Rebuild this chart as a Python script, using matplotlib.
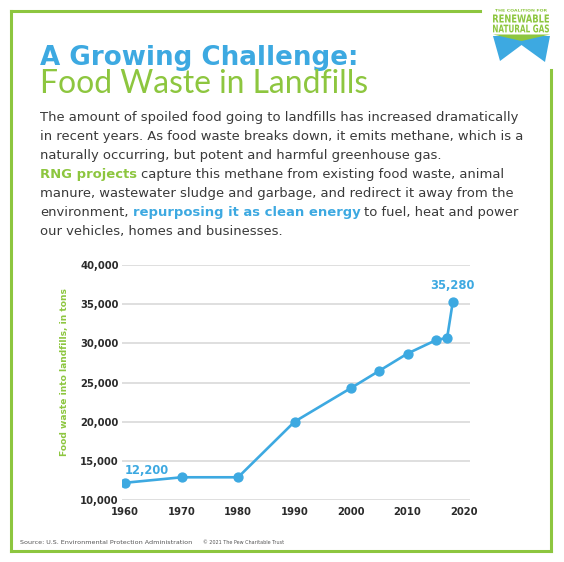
import matplotlib
matplotlib.use("Agg")
import matplotlib.pyplot as plt
from matplotlib.lines import Line2D
from matplotlib.patches import Polygon, PathPatch
from matplotlib.textpath import TextPath
from matplotlib.font_manager import FontProperties
from matplotlib.transforms import Affine2D

# ---------------- data ----------------
years = [1960, 1970, 1980, 1990, 2000, 2005, 2010, 2015, 2017, 2018]
tons = [12200, 12900, 12900, 20000, 24300, 26500, 28700, 30400, 30700, 35280]
x_ticks = [1960, 1970, 1980, 1990, 2000, 2010, 2020]
x_tick_labels = ["1960", "1970", "1980", "1990", "2000", "2010", "2020"]
y_ticks = [10000, 15000, 20000, 25000, 30000, 35000, 40000]
y_tick_labels = ["10,000", "15,000", "20,000", "25,000", "30,000", "35,000", "40,000"]
callout_years = [1960, 2018]
callout_labels = ["12,200", "35,280"]

title = "A Growing Challenge:"
subtitle = "Food Waste in Landfills"
body_lines = [
    [("The amount of spoiled food going to landfills has increased dramatically", "txt")],
    [("in recent years. As food waste breaks down, it emits methane, which is a", "txt")],
    [("naturally occurring, but potent and harmful greenhouse gas.", "txt")],
    [("RNG projects", "green"), ("capture this methane from existing food waste, animal", "txt")],
    [("manure, wastewater sludge and garbage, and redirect it away from the", "txt")],
    [("environment,", "txt"), ("repurposing it as clean energy", "blue"), ("to fuel, heat and power", "txt")],
    [("our vehicles, homes and businesses.", "txt")],
]
y_label = "Food waste into landfills, in tons"
source = "Source: U.S. Environmental Protection Administration"
copyright_txt = "\u00a9 2021 The Pew Charitable Trust"
logo_lines = ["THE COALITION FOR", "RENEWABLE", "NATURAL GAS"]

# ---------------- style ----------------
W, H = 564, 562
GREEN = "#8DC63F"
BLUE = "#3DA9E1"
TXT = "#3a3a3a"
GRID = "#d9d9d9"
FONT = ["DejaVu Sans"]

fig = plt.figure(figsize=(W / 100, H / 100), dpi=100)
fig.patch.set_facecolor("white")
renderer = fig.canvas.get_renderer()


def fx(px):
    return px / W


def fy(py):
    return 1 - py / H


def width_of(t):
    return t.get_window_extent(renderer).width


def fit_text(x, y, s, target_w, size0=10, **kw):
    t = fig.text(fx(x), fy(y), s, fontsize=size0, **kw)
    w = width_of(t)
    t.set_fontsize(size0 * target_w / w)
    return t


def box_text(s, x0, x1, ytop, ybot, color, weight="bold"):
    """Draw text squeezed into a pixel box (top-left origin)."""
    tp = TextPath((0, 0), s, size=10, prop=FontProperties(family="DejaVu Sans", weight=weight))
    ext = tp.get_extents()
    sx = (x1 - x0) / ext.width
    sy = (ybot - ytop) / ext.height
    tr = Affine2D().translate(-ext.x0, -ext.y0).scale(sx, sy).translate(x0, H - ybot)
    fig.patches.append(PathPatch(tp, transform=tr, facecolor=color, edgecolor="none"))


# frame
fl = dict(color=GREEN, lw=2.2, solid_capstyle="projecting", transform=fig.transFigure)
for (x0, y0, x1, y1) in [(10.5, 10.5, 480, 10.5), (10.5, 10.5, 10.5, 550.5),
                         (10.5, 550.5, 550.5, 550.5), (550.5, 70, 550.5, 550.5)]:
    fig.lines.append(Line2D([fx(x0), fx(x1)], [fy(y0), fy(y1)], **fl))

# logo
box_text(logo_lines[0], 495, 547, 9, 11.6, GREEN)
box_text(logo_lines[1], 493, 549, 14.5, 22.5, GREEN)
box_text(logo_lines[2], 493, 549, 24.5, 32.5, GREEN)
bow = [(493, 36), (550, 36), (545, 62), (521.5, 45), (500, 61)]
fig.patches.append(Polygon([(fx(a), fy(b)) for a, b in bow], closed=True, facecolor=BLUE,
                           edgecolor="none", transform=fig.transFigure))
band = [(493, 34.5), (550, 34.5), (521.5, 41)]
fig.patches.append(Polygon([(fx(a), fy(b)) for a, b in band], closed=True, facecolor=GREEN,
                           edgecolor="none", transform=fig.transFigure))

# titles
fit_text(40, 65, title, 318, color=BLUE, fontweight="bold", va="baseline", family=FONT)
fit_text(40, 93, subtitle, 328, color=GREEN, fontweight="normal", va="baseline",
         family=["Lato", "DejaVu Sans"])

# body text
probe = fig.text(0, 0, body_lines[0][0][0], fontsize=10, family=FONT)
body_size = 10 * 474 / width_of(probe)
probe.remove()
p1 = fig.text(0, 0, "x x", fontsize=body_size, family=FONT)
p2 = fig.text(0, 0, "xx", fontsize=body_size, family=FONT)
space_w = width_of(p1) - width_of(p2)
p1.remove()
p2.remove()
styles = {"txt": (TXT, "normal"), "green": (GREEN, "bold"), "blue": (BLUE, "bold")}
y0 = 120.5
for i, line in enumerate(body_lines):
    x = 40
    for j, (s, st) in enumerate(line):
        c, wgt = styles[st]
        t = fig.text(fx(x), fy(y0 + i * 19.1), s, fontsize=body_size, color=c,
                     fontweight=wgt, va="baseline", family=FONT)
        x += width_of(t) + space_w

# chart
ax = fig.add_axes([fx(122), fy(500), (470 - 122) / W, (500 - 265) / H])
ax.plot(years, tons, color=BLUE, lw=1.9, marker="o", markersize=6.4, zorder=3,
        solid_capstyle="round")
ax.set_xlim(1959.45, 2021.05)
ax.set_ylim(10000, 40000)
ax.set_yticks(y_ticks)
ax.set_yticklabels(y_tick_labels)
ax.set_xticks(x_ticks)
ax.set_xticklabels(x_tick_labels)
ax.tick_params(length=0, labelsize=7.2, labelcolor="#2b2b2b")
ax.tick_params(axis="y", pad=2.5)
ax.tick_params(axis="x", pad=5)
for lab in ax.get_xticklabels() + ax.get_yticklabels():
    lab.set_fontweight("bold")
    lab.set_family(FONT)
ax.grid(axis="y", color=GRID, lw=1.2)
ax.set_axisbelow(True)
for sp in ax.spines.values():
    sp.set_visible(False)
ax.set_facecolor("none")

for yr, lab in zip(callout_years, callout_labels):
    v = tons[years.index(yr)]
    if yr == callout_years[0]:
        ax.annotate(lab, (yr, v), xytext=(0, 4.5), textcoords="offset points",
                    ha="left", va="bottom", color=BLUE, fontsize=8.3,
                    fontweight="bold", family=FONT)
    else:
        ax.annotate(lab, (yr, v), xytext=(0, 7), textcoords="offset points",
                    ha="center", va="bottom", color=BLUE, fontsize=8.3,
                    fontweight="bold", family=FONT)

fig.text(fx(65), fy(372), y_label, rotation=90, color=GREEN, fontsize=6.6,
         fontweight="bold", ha="center", va="center", family=FONT)

# footer
fit_text(20, 543, source, 170, color="#555555", va="center", family=FONT)
fit_text(203, 543, copyright_txt, 80, color="#555555", va="center", family=FONT)

fig.savefig("out.png", dpi=100, facecolor="white")
